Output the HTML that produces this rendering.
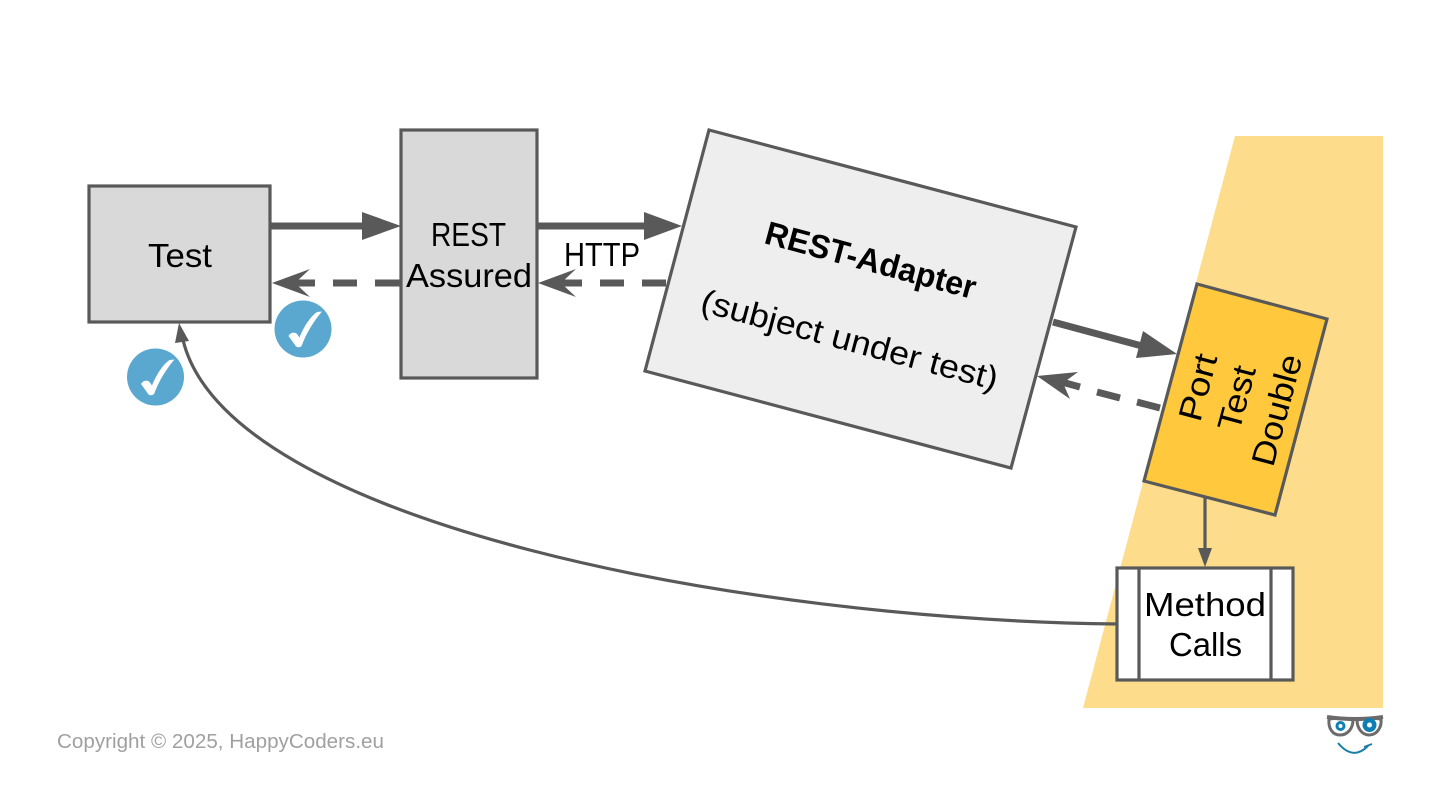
<!DOCTYPE html>
<html lang="en">
<head>
<meta charset="utf-8">
<title>REST-Adapter test diagram</title>
<style>
html,body{margin:0;padding:0;background:#fff;width:1440px;height:810px;overflow:hidden}
svg{display:block}
text{font-family:"Liberation Sans",sans-serif;fill:#000;font-size:33px}
</style>
</head>
<body>
<svg width="1440" height="810" viewBox="0 0 1440 810" xmlns="http://www.w3.org/2000/svg">
<rect width="1440" height="810" fill="#fff"/>
<polygon points="1235,136 1383,136 1383,708 1083,708" fill="#FDDD8B"/>

<g stroke="#595959" stroke-width="3.2" stroke-linejoin="miter">
<rect x="89" y="186" width="181" height="136" fill="#D9D9D9"/>
<rect x="401" y="130" width="136" height="248" fill="#D9D9D9"/>
<polygon points="709,130 1076,227 1011,468 645,371" fill="#EEEEEE"/>
<polygon points="1197,284 1327,319 1275,515 1144,481" fill="#FFC83D"/>
<rect x="1117" y="568" width="176" height="112" fill="#fff"/>
<line x1="1139" y1="568" x2="1139" y2="680"/>
<line x1="1271" y1="568" x2="1271" y2="680"/>
</g>

<!-- connectors -->
<g fill="#595959" stroke="none">
<polygon points="362,212 401,226 362,240"/>
<polygon points="644,212 682,226 644,240"/>
<polygon points="1143,331 1177,354 1136,358"/>
<polygon points="272,283 310,269 295,283 310,297"/>
<polygon points="538,283 576,269 561,283 576,297"/>
<polygon points="1037,376 1078,372 1063,383 1070,399"/>
<polygon points="1198,548 1212,548 1205,567"/>
<polygon points="179,323 189,341 175,343"/>
</g>
<g stroke="#595959" fill="none">
<line x1="271" y1="226" x2="365" y2="226" stroke-width="7"/>
<line x1="537" y1="226" x2="647" y2="226" stroke-width="7"/>
<line x1="1053" y1="322" x2="1142" y2="346" stroke-width="7"/>
<line x1="290" y1="283" x2="315" y2="283" stroke-width="7"/>
<line x1="333" y1="283" x2="357" y2="283" stroke-width="7"/>
<line x1="375" y1="283" x2="400" y2="283" stroke-width="7"/>
<line x1="556" y1="283" x2="582" y2="283" stroke-width="7"/>
<line x1="600" y1="283" x2="624" y2="283" stroke-width="7"/>
<line x1="642" y1="283" x2="666" y2="283" stroke-width="7"/>
<line x1="1160" y1="408" x2="1137" y2="402" stroke-width="7"/>
<line x1="1120" y1="398" x2="1097" y2="392" stroke-width="7"/>
<line x1="1080" y1="387" x2="1058" y2="381" stroke-width="7"/>
<line x1="1205" y1="498" x2="1205" y2="550" stroke-width="3.2"/>
<path d="M1117 624 C750 620 228 525 183 340" stroke-width="3.2"/>
</g>

<!-- check badges -->
<circle cx="303" cy="329" r="28.5" fill="#5AA7CF"/>
<circle cx="155.500" cy="377" r="28.500" fill="#5AA7CF"/>
<path transform="translate(303 329)" fill="#fff" d="M-14.500,7 C-12,3 -8,3 -6,5 L-3.500,8.500 C1,-3 8,-13 14,-17 L19,-17.500 C10,-7 3,5 -1,16 C-2,19 -7,19 -8,16 Z"/>
<path transform="translate(155.500 377)" fill="#fff" d="M-14.500,7 C-12,3 -8,3 -6,5 L-3.500,8.500 C1,-3 8,-13 14,-17 L19,-17.500 C10,-7 3,5 -1,16 C-2,19 -7,19 -8,16 Z"/>

<!-- labels -->
<text x="148" y="267" textLength="64" lengthAdjust="spacingAndGlyphs">Test</text>
<text x="431" y="246" textLength="75" lengthAdjust="spacingAndGlyphs">REST</text>
<text x="406" y="287" textLength="126" lengthAdjust="spacingAndGlyphs">Assured</text>
<text x="564" y="266" textLength="76" lengthAdjust="spacingAndGlyphs">HTTP</text>
<text x="1144" y="616" textLength="122" lengthAdjust="spacingAndGlyphs">Method</text>
<text x="1169" y="656" textLength="73" lengthAdjust="spacingAndGlyphs">Calls</text>

<text transform="translate(763 243) rotate(15)" font-weight="700" textLength="217" lengthAdjust="spacingAndGlyphs">REST-Adapter</text>
<text transform="translate(699 311) rotate(15)" textLength="306" lengthAdjust="spacingAndGlyphs">(subject under test)</text>

<text transform="translate(1200 423) rotate(-75)" textLength="68" lengthAdjust="spacingAndGlyphs">Port</text>
<text transform="translate(1239 433) rotate(-75)" textLength="66" lengthAdjust="spacingAndGlyphs">Test</text>
<text transform="translate(1273 468) rotate(-75)" textLength="114" lengthAdjust="spacingAndGlyphs">Double</text>

<text x="57" y="748" textLength="327" lengthAdjust="spacingAndGlyphs" style="font-size:20px;fill:#A0A0A0">Copyright © 2025, HappyCoders.eu</text>

<!-- logo -->
<g fill="none">
<path d="M1329 719 C1328 729 1333 735 1340 735 C1348 735 1353 728 1353 720 Q1341 717 1329 719 Z" stroke="#6b6b6b" stroke-width="3" fill="#fff"/>
<path d="M1357 720 C1357 728 1362 735 1369 735 C1377 735 1382 727 1381 719 Q1369 717 1357 720 Z" stroke="#6b6b6b" stroke-width="3" fill="#fff"/>
<path d="M1327 717 Q1355 721 1383 717" stroke="#6b6b6b" stroke-width="4"/>
<circle cx="1340.500" cy="726" r="5" fill="#0E7FB5"/>
<circle cx="1369.500" cy="725" r="7" fill="#0E7FB5"/>
<circle cx="1340.500" cy="726" r="2" fill="#fff"/>
<circle cx="1369.500" cy="725" r="2.500" fill="#fff"/>
<path d="M1338 743 Q1353 761 1368 746 M1372 744 L1364 747" stroke="#1B7FA8" stroke-width="2"/>
</g>
</svg>
</body>
</html>
